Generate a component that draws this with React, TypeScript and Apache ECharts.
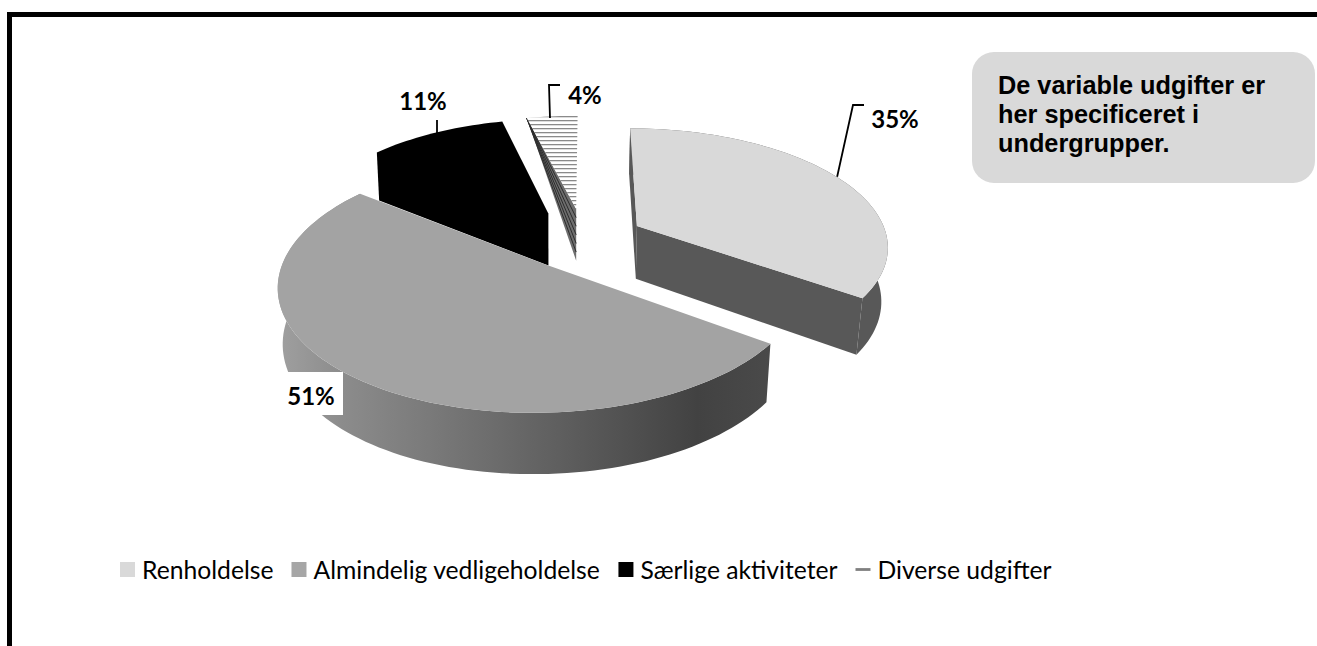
import React, { useEffect, useRef } from "react";
import * as echarts from "echarts";

const categories = ["Renholdelse", "Almindelig vedligeholdelse", "Særlige aktiviteter", "Diverse udgifter"];
const shares = [34.9, 50.6, 10.6, 3.9];
const calloutLines = ["De variable udgifter er", "her specificeret i", "undergrupper."];

const TOP_COLORS = ["#d9d9d9", "#a3a3a3", "#000000", "#ffffff"];
const SERIES_Z = [3, 5, 2, 1];
const EXPLODES = [0.25, 0.25, 0.27, 0.27];
const X_NUDGE = [0, -0.004, 0.008, 0.008];
const LABEL_FONT = 'bold 24px Lato, "Open Sans", sans-serif';

// perspective pie geometry
const VX = 587, VY = 239, R = 251, DEPTH = 117, K = 0.16, X0 = -0.02;
const total = shares.reduce((a, b) => a + b, 0);

function top(X: number, Z: number): number[] {
  const s = 1 / (1 - K * Z);
  return [VX + X * R * s, VY + DEPTH * Z * s];
}
function bottom(X: number, Z: number): number[] {
  const p = top(X, Z);
  const d = Math.max(0, (p[0] - VX) / 276);
  const l = Math.max(0, (VX - p[0]) / 310);
  return [p[0] - 6 * d + 5 * l * l, p[1] + 53.5 + 6.5 * Z];
}

function sliceGeometry(i: number) {
  let acc = 0;
  for (let j = 0; j < i; j++) acc += shares[j];
  const a = (acc / total) * 2 * Math.PI;
  const b = ((acc + shares[i]) / total) * 2 * Math.PI;
  const mid = (a + b) / 2;
  const ox = X0 + X_NUDGE[i] + EXPLODES[i] * Math.sin(mid);
  const oz = -EXPLODES[i] * Math.cos(mid);
  const at = (t: number) => [ox + Math.sin(t), oz - Math.cos(t)];
  const steps = Math.max(4, Math.ceil((b - a) / 0.03));
  const arc: number[][] = [];
  for (let k = 0; k <= steps; k++) arc.push(at(a + ((b - a) * k) / steps));
  return { a, b, mid, ox, oz, at, arc };
}

function poly(points: number[][], fill: any) {
  return { type: "polygon", silent: true, shape: { points }, style: { fill } };
}
function line(points: number[][], stroke = "#000", lineWidth = 1.8) {
  return { type: "polyline", silent: true, shape: { points }, style: { fill: "none", stroke, lineWidth } };
}
function label(text: string, x: number, y: number) {
  return {
    type: "text", silent: true,
    style: { text, x, y, font: LABEL_FONT, fill: "#000", align: "center", verticalAlign: "middle" },
  };
}

function makeHatch() {
  const c = document.createElement("canvas");
  c.width = 4; c.height = 4;
  const g = c.getContext("2d")!;
  g.fillStyle = "#ffffff"; g.fillRect(0, 0, 4, 4);
  g.fillStyle = "#8a8a8a"; g.fillRect(0, 0, 4, 1);
  g.fillStyle = "#dddddd"; g.fillRect(0, 1, 4, 1);
  return c;
}

function buildSlice(i: number, hatch: HTMLCanvasElement) {
  const g = sliceGeometry(i);
  const children: any[] = [];
  const first = g.arc[0];
  const last = g.arc[g.arc.length - 1];
  const topArc = g.arc.map((p) => top(p[0], p[1]));
  const botArc = g.arc.map((p) => bottom(p[0], p[1]));
  const outer = [...topArc, ...botArc.slice().reverse()];
  const A = top(g.ox, g.oz);
  const Ab = bottom(g.ox, g.oz);

  if (i === 0) {
    const dark = "#585858";
    children.push(poly(outer, dark));
    children.push(poly([top(first[0], first[1]), A, Ab, bottom(first[0], first[1])], dark));
    children.push(poly([A, top(last[0], last[1]), bottom(last[0], last[1]), Ab], dark));
    children.push(poly([A, ...topArc], TOP_COLORS[i]));
    const m = g.at(g.mid);
    const p = top(m[0], m[1]);
    children.push(line([[p[0] - 1, p[1] - 1], [853, 105], [864, 105]]));
    children.push(label(Math.round(shares[i]) + "%", 895, 118));
  } else if (i === 1) {
    const wall = new echarts.graphic.LinearGradient(277, 0, 772, 0, [
      { offset: 0, color: "#a0a0a0" },
      { offset: 0.13, color: "#8c8c8c" },
      { offset: 0.5, color: "#666666" },
      { offset: 0.85, color: "#424242" },
      { offset: 1, color: "#4a4a4a" },
    ], true);
    children.push(poly(outer, wall));
    children.push(poly([A, ...topArc], TOP_COLORS[i]));
    children.push({ type: "rect", silent: true, shape: { x: 272, y: 372, width: 71, height: 43 }, style: { fill: "#fff" } });
    children.push(label(Math.round(shares[i]) + "%", 311, 395));
  } else if (i === 2) {
    children.push(poly([...topArc, A, Ab, bottom(first[0], first[1])], "#000000"));
    const m = g.at(g.a + (g.b - g.a) * 0.42);
    const p = top(m[0], m[1]);
    children.push(line([[437, p[1]], [437, 120]]));
    children.push(label(Math.round(shares[i]) + "%", 423, 100));
  } else {
    const far = top(first[0], first[1]);
    children.push(poly([far, A, Ab], "#6e6e6e"));
    for (let k = 1; k <= 5; k++) {
      const f = k / 6;
      children.push(line([far, [A[0] + (Ab[0] - A[0]) * f, A[1] + (Ab[1] - A[1]) * f]], "#2c2c2c", 1));
    }
    children.push(poly([A, ...topArc], { image: hatch, repeat: "repeat", imageWidth: 4, imageHeight: 4 }));
    children.push(line([[550, far[1]], [549, 85], [560, 85]]));
    children.push(label(Math.round(shares[i]) + "%", 585, 94));
  }
  return { type: "group", children };
}

export default function App() {
  const ref = useRef<HTMLDivElement>(null);
  useEffect(() => {
    const chart = echarts.init(ref.current!, undefined, { renderer: "svg" });
    const hatch = makeHatch();
    chart.setOption({
      animation: false,
      backgroundColor: "#ffffff",
      legend: {
        left: 115,
        top: 552,
        itemWidth: 15,
        itemHeight: 15,
        itemGap: 18,
        selectedMode: false,
        textStyle: { fontFamily: 'Lato, "Open Sans", sans-serif', fontSize: 24.7, color: "#000", padding: [0, 0, 0, 2] },
        data: categories.map((name, i) => ({
          name,
          icon: i === 3 ? "path://M0 0H16V3H0Z" : "rect",
          itemStyle: { color: i === 3 ? "#808080" : i === 1 ? "#a6a6a6" : TOP_COLORS[i] },
        })),
      },
      graphic: [
        { type: "rect", silent: true, shape: { x: 7, y: 12, width: 1310, height: 5 }, style: { fill: "#000" } },
        { type: "rect", silent: true, shape: { x: 7, y: 12, width: 5, height: 634 }, style: { fill: "#000" } },
        { type: "rect", silent: true, shape: { x: 972, y: 52, width: 343, height: 131, r: 22 }, style: { fill: "#d9d9d9" } },
        {
          type: "text", silent: true, x: 998, y: 70,
          style: {
            text: calloutLines.join("\n"),
            font: 'bold 25.3px "Liberation Sans", Arial, sans-serif',
            lineHeight: 29, fill: "#000", align: "left", verticalAlign: "top",
          },
        },
      ],
      series: categories.map((name, i) => ({
        type: "custom",
        name,
        coordinateSystem: "none",
        z: SERIES_Z[i],
        silent: true,
        data: [[shares[i]]],
        itemStyle: { color: i === 3 ? "#808080" : TOP_COLORS[i] },
        renderItem: () => buildSlice(i, hatch),
      })),
    });
    return () => chart.dispose();
  }, []);
  return <div ref={ref} style={{ position: "absolute", left: 0, top: 0, width: 1317, height: 646 }} />;
}
